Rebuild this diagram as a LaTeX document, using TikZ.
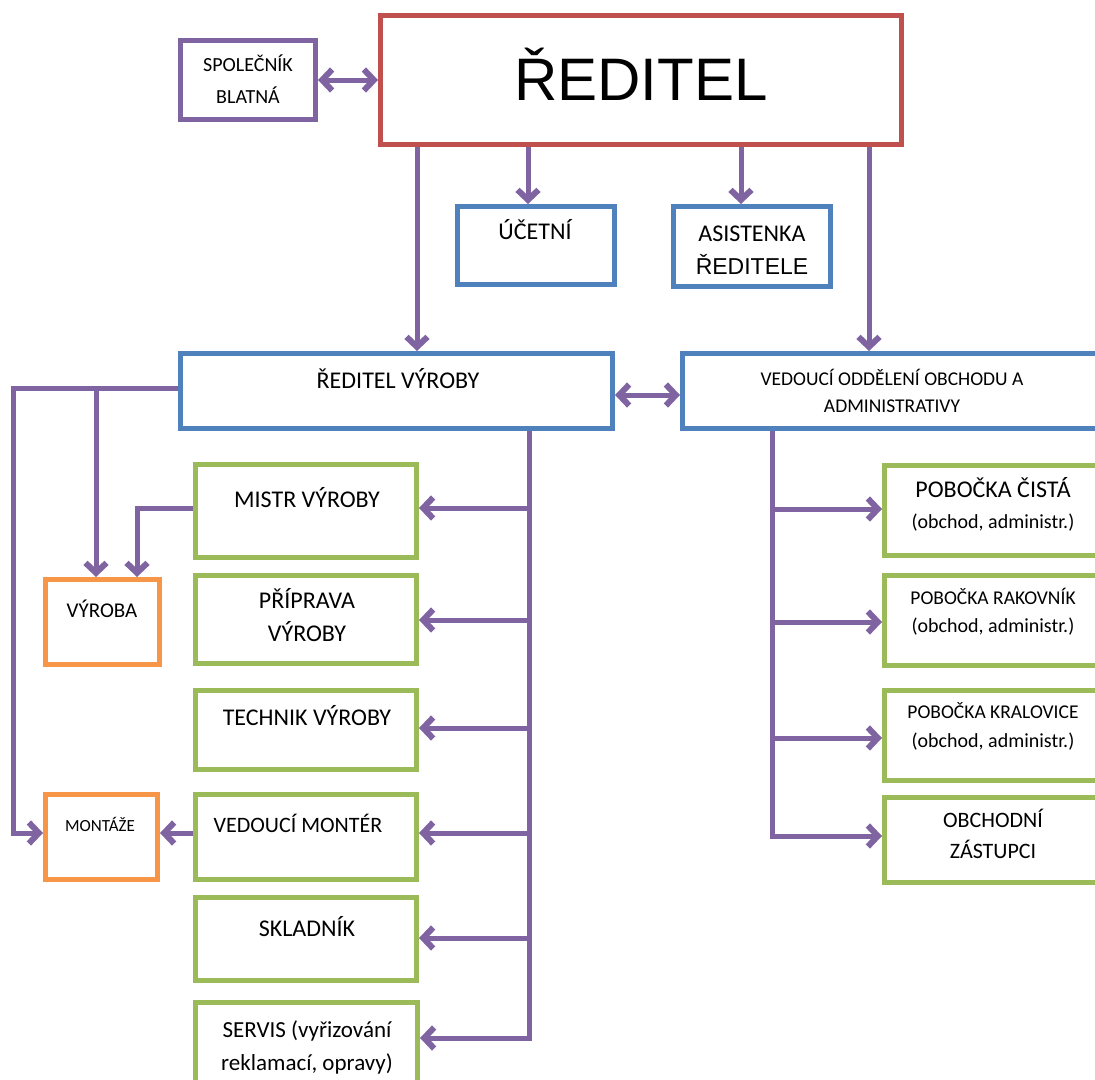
\documentclass[tikz,border=0pt]{standalone}
\usepackage{fontspec}
\setmainfont{Carlito}
\newfontfamily\arialf{Liberation Sans}
\usetikzlibrary{arrows.meta}
\definecolor{cred}{HTML}{C0504D}
\definecolor{cblue}{HTML}{4F81BD}
\definecolor{cgreen}{HTML}{9BBB59}
\definecolor{corange}{HTML}{F79646}
\definecolor{cpurple}{HTML}{8064A2}
\newcommand\mkbox[6]{\node[boxst, draw=#2, minimum width={#5-#3-5}, minimum height={#6-#4-5}] (#1) at ({(#3+#5)/2},{(#4+#6)/2}) {};}
\newcommand\mklbl[5]{\node[lbl, font=\fontsize{#4}{#4}\selectfont] (#1) at (#2,#3) {#5};}
\begin{document}
\begin{tikzpicture}[x=1pt,y=-1pt,
  boxst/.style={rectangle, line width=5pt, fill=white, inner sep=0pt},
  lbl/.style={anchor=base, inner sep=0pt, text=black},
  conn/.style={draw=cpurple, line width=5pt, arrows={-}},
  tip/.style={-{Straight Barb[length=10pt,width=21pt,line width=0pt 1.2]}},
  tips/.style={{Straight Barb[length=10pt,width=21pt,line width=0pt 1.2]}-{Straight Barb[length=10pt,width=21pt,line width=0pt 1.2]}}]
\useasboundingbox (0,0) rectangle (1095,1079);
\clip (0,0) rectangle (1095,1079);
% boxes
\mkbox{spol}{cpurple}{178}{38}{318}{122}
\mkbox{red}{cred}{378}{13}{904}{147}
\mkbox{ucet}{cblue}{455}{204}{617}{287}
\mkbox{asis}{cblue}{671}{204}{833}{289}
\mkbox{rv}{cblue}{178}{351}{615}{431}
\mkbox{vedo}{cblue}{680}{351}{1105}{431}
\mkbox{mistr}{cgreen}{193}{462}{419}{560}
\mkbox{prip}{cgreen}{193}{573}{419}{666}
\mkbox{tech}{cgreen}{193}{688}{419}{772}
\mkbox{vmont}{cgreen}{193}{792}{419}{882}
\mkbox{sklad}{cgreen}{193}{895}{419}{983}
\mkbox{serv}{cgreen}{193}{1000}{420}{1100}
\mkbox{vyr}{corange}{43}{577}{162}{667}
\mkbox{mont}{corange}{43}{792}{160}{882}
\mkbox{cist}{cgreen}{882}{463}{1105}{558}
\mkbox{rak}{cgreen}{882}{573}{1105}{668}
\mkbox{kral}{cgreen}{882}{688}{1105}{783}
\mkbox{obch}{cgreen}{882}{795}{1105}{885}
% labels
\mklbl{t-spol1}{248}{71.5}{20}{SPOLEČNÍK}
\mklbl{t-spol2}{248}{103.5}{20}{BLATNÁ}
\node[lbl, font=\arialf\fontsize{60}{60}\selectfont] (t-red) at (641,100) {ŘEDITEL};
\mklbl{t-ucet}{535}{239}{24}{ÚČETNÍ}
\mklbl{t-asis1}{752}{241}{24}{ASISTENKA}
\node[lbl, font=\arialf\fontsize{23}{23}\selectfont] (t-asis2) at (752,274) {ŘEDITELE};
\mklbl{t-rv}{398}{388}{24}{ŘEDITEL VÝROBY}
\mklbl{t-vedo1}{892}{385}{19.5}{VEDOUCÍ ODDĚLENÍ OBCHODU A}
\mklbl{t-vedo2}{892}{412}{19.5}{ADMINISTRATIVY}
\mklbl{t-mistr}{307}{507}{24}{MISTR VÝROBY}
\mklbl{t-prip1}{307}{608}{24}{PŘÍPRAVA}
\mklbl{t-prip2}{307}{641}{24}{VÝROBY}
\mklbl{t-tech}{307}{725}{24}{TECHNIK VÝROBY}
\mklbl{t-vmont}{298}{832}{22}{VEDOUCÍ MONTÉR}
\mklbl{t-sklad}{307}{936}{24}{SKLADNÍK}
\mklbl{t-serv1}{307}{1037}{23}{SERVIS (vyřizování}
\mklbl{t-serv2}{307}{1070}{23}{reklamací, opravy)}
\mklbl{t-vyr}{102}{617}{21}{VÝROBA}
\mklbl{t-mont}{100}{831}{17}{MONTÁŽE}
\mklbl{t-cist1}{993}{497}{24}{POBOČKA ČISTÁ}
\mklbl{t-cist2}{993}{528}{20}{(obchod, administr.)}
\mklbl{t-rak1}{993}{604}{19.5}{POBOČKA RAKOVNÍK}
\mklbl{t-rak2}{993}{632}{20}{(obchod, administr.)}
\mklbl{t-kral1}{993}{718}{19.5}{POBOČKA KRALOVICE}
\mklbl{t-kral2}{993}{747}{20}{(obchod, administr.)}
\mklbl{t-obch1}{993}{827}{22}{OBCHODNÍ}
\mklbl{t-obch2}{993}{858}{22}{ZÁSTUPCI}
% connectors
\draw[conn,tips] (spol) -- (red);
\draw[conn,tip] (red.south -| 417,0) -- (rv.north -| 417,0);
\draw[conn,tip] (red.south -| 528,0) -- (ucet.north -| 528,0);
\draw[conn,tip] (red.south -| 741,0) -- (asis.north -| 741,0);
\draw[conn,tip] (red.south -| 869,0) -- (vedo.north -| 869,0);
\draw[conn,tips] (rv.east |- 0,395) -- (vedo.west |- 0,395);
\draw[conn,tip] (rv.west |- 0,388) -- (13,388) |- (mont.west |- 0,833);
\draw[conn,tip] (96,388) -- (vyr.north -| 96,0);
\draw[conn,tip] (mistr.west |- 0,508) -| (vyr.north -| 137,0);
\draw[conn,tip] (vmont.west |- 0,833) -- (mont.east |- 0,833);
\draw[conn,tip] (rv.south -| 529,0) |- (serv.east |- 0,1038);
\draw[conn,tip] (529,508) -- (mistr.east |- 0,508);
\draw[conn,tip] (529,620) -- (prip.east |- 0,620);
\draw[conn,tip] (529,728) -- (tech.east |- 0,728);
\draw[conn,tip] (529,833) -- (vmont.east |- 0,833);
\draw[conn,tip] (529,938) -- (sklad.east |- 0,938);
\draw[conn,tip] (vedo.south -| 772,0) |- (obch.west |- 0,836);
\draw[conn,tip] (772,509) -- (cist.west |- 0,509);
\draw[conn,tip] (772,622) -- (rak.west |- 0,622);
\draw[conn,tip] (772,738) -- (kral.west |- 0,738);
\end{tikzpicture}
\end{document}
